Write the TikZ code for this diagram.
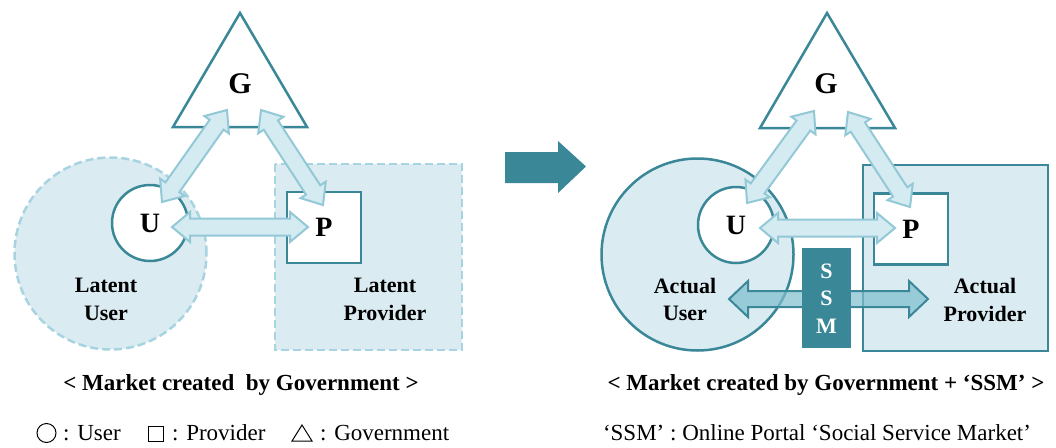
\documentclass[tikz,border=0pt]{standalone}
\usepackage{fontspec}
\setmainfont{Liberation Serif}
\usetikzlibrary{calc}

\definecolor{mteal}{HTML}{3A8798}
\definecolor{mlight}{HTML}{DAECF2}
\definecolor{mdash}{HTML}{A8D3E0}
\definecolor{arrfill}{HTML}{D5EBF2}
\definecolor{arrline}{HTML}{93C8D7}
\definecolor{ssmfill}{HTML}{7DBDCD}

% fat double-headed arrow between two named points:
% #1 style, #2 from, #3 to, #4 half shaft width, #5 half head width, #6 head length
\newcommand\fatarrow[6]{%
  \coordinate (fa-c1) at ($(#2)!#6!(#3)$);
  \coordinate (fa-c2) at ($(#3)!#6!(#2)$);
  \draw[#1] (#2) -- ($(fa-c1)!#5!90:(#3)$) -- ($(fa-c1)!#4!90:(#3)$)
    -- ($(fa-c2)!#4!-90:(#2)$) -- ($(fa-c2)!#5!-90:(#2)$) -- (#3)
    -- ($(fa-c2)!#5!90:(#2)$) -- ($(fa-c2)!#4!90:(#2)$)
    -- ($(fa-c1)!#4!-90:(#3)$) -- ($(fa-c1)!#5!-90:(#3)$) -- cycle;
}

\tikzset{
  edge/.style={draw=mteal, line width=2.5pt},
  ucircle/.style={edge, circle, fill=white, minimum size=76pt, inner sep=0pt,
    font=\fontsize{28}{30}\selectfont\bfseries},
  pbox/.style={edge, rectangle, fill=white, minimum width=74pt, minimum height=71pt,
    inner sep=0pt, font=\fontsize{28}{30}\selectfont\bfseries},
  gtri/.style={edge, fill=white, line join=miter},
  glabel/.style={font=\fontsize{30}{32}\selectfont\bfseries, anchor=base},
  latent/.style={fill=mlight, draw=mdash, line width=2.5pt, dash pattern=on 8pt off 4pt},
  actual/.style={fill=mlight, draw=mteal, line width=2.5pt},
  lightarrow/.style={fill=arrfill, draw=arrline, line width=2pt, line join=miter},
  ssmarrow/.style={fill=ssmfill, fill opacity=0.7, draw=mteal, line width=2pt, line join=miter},
  grouplabel/.style={font=\fontsize{22}{28}\selectfont\bfseries, anchor=base, inner sep=0pt},
  caption/.style={font=\fontsize{23}{26}\selectfont\bfseries, anchor=base},
  legend/.style={font=\fontsize{23}{26}\selectfont, anchor=base west, inner sep=0pt},
  legendtext/.style={font=\fontsize{23}{26}\selectfont, anchor=base, inner sep=0pt},
  symb/.style={draw=black, line width=1pt},
  ssmletter/.style={font=\fontsize{22}{24}\selectfont\bfseries, text=white, anchor=base, inner sep=0pt},
}

\begin{document}
\begin{tikzpicture}[x=1pt, y=-1pt]
\useasboundingbox (0,0) rectangle (1056,447);

% ---------- market created by government ----------
\node[latent, circle, minimum size=192pt, inner sep=0pt] (LU) at (110.5,253.5) {};
\draw[latent] (275,164) rectangle (462,350);

\node[ucircle] (U1) at (150,223) {U};
\node[pbox] (P1) at (324,227.5) {P};
\draw[gtri] (240,13) -- (307,127) -- (173,127) -- cycle;
\node[glabel] (G1) at (240,93) {G};

\coordinate (ug1a) at (162,202);
\coordinate (ug1b) at (227,110);
\coordinate (gp1a) at (261,110);
\coordinate (gp1b) at (323,205);
\coordinate (up1a) at (172,227);
\coordinate (up1b) at (308,227);
\fatarrow{lightarrow}{ug1a}{ug1b}{8.5pt}{15pt}{18pt}
\fatarrow{lightarrow}{gp1a}{gp1b}{8.5pt}{15pt}{18pt}
\fatarrow{lightarrow}{up1a}{up1b}{8.5pt}{15pt}{18pt}

\node[grouplabel] (LUtxt1) at (106,292) {Latent};
\node[grouplabel] (LUtxt2) at (106,320) {User};
\node[grouplabel] (LPtxt1) at (385,292) {Latent};
\node[grouplabel] (LPtxt2) at (385,320) {Provider};
\node[caption] (cap1) at (241,390) {\textless{} Market created~ by Government \textgreater};

% legend
\draw[symb] (46.5,433) circle (9.5);
\node[legend] (lg1) at (63,440) {: User};
\draw[symb] (148,426) rectangle (163,441);
\node[legend] (lg2) at (172,440) {: Provider};
\draw[symb, line join=miter] (292,441) -- (312,441) -- (302,425) -- cycle;
\node[legend] (lg3) at (320,440) {: Government};

% ---------- transition arrow ----------
\fill[mteal] (505,152) -- (558,152) -- (558,141) -- (586,166.5) -- (558,193)
  -- (558,183) -- (505,183) -- cycle;

% ---------- market created by government + SSM ----------
\node[actual, circle, minimum size=192pt, inner sep=0pt] (AU) at (697.5,254.5) {};
\draw[actual] (863,165) rectangle (1048,351);

\node[ucircle] (U2) at (736,225) {U};
\node[pbox] (P2) at (911,229) {P};
\draw[gtri] (827,13) -- (895,128) -- (760,128) -- cycle;
\node[glabel] (G2) at (826,93) {G};

\coordinate (ug2a) at (747,203);
\coordinate (ug2b) at (814,111);
\coordinate (gp2a) at (848,112);
\coordinate (gp2b) at (910,207);
\coordinate (up2a) at (760,228);
\coordinate (up2b) at (895,228);
\fatarrow{lightarrow}{ug2a}{ug2b}{8.5pt}{15pt}{18pt}
\fatarrow{lightarrow}{gp2a}{gp2b}{8.5pt}{15pt}{18pt}
\fatarrow{lightarrow}{up2a}{up2b}{8.5pt}{15pt}{18pt}

\coordinate (ssma) at (729,299);
\coordinate (ssmb) at (928,299);
\fatarrow{ssmarrow}{ssma}{ssmb}{8pt}{18pt}{19pt}

\fill[mteal] (802,248) rectangle (851,348);
\node[ssmletter] (S1) at (826.5,278) {S};
\node[ssmletter] (S2) at (826.5,305) {S};
\node[ssmletter] (S3) at (826.5,333) {M};

\node[grouplabel] (AUtxt1) at (685,293) {Actual};
\node[grouplabel] (AUtxt2) at (685,320) {User};
\node[grouplabel] (APtxt1) at (985,293) {Actual};
\node[grouplabel] (APtxt2) at (985,321) {Provider};
\node[caption] (cap2) at (826,390) {\textless{} Market created by Government + ‘SSM’ \textgreater};
\node[legendtext] (lg4) at (817,440) {‘SSM’ : Online Portal ‘Social Service Market’};
\end{tikzpicture}
\end{document}
